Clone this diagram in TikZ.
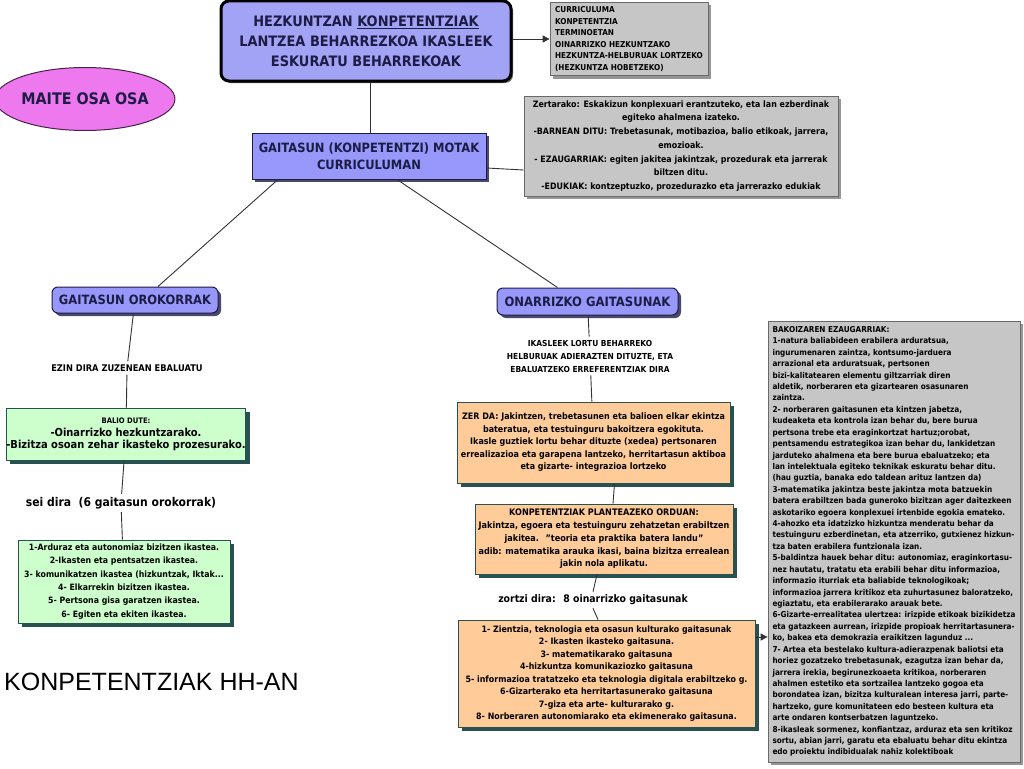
\documentclass[tikz,border=0pt]{standalone}
\usepackage{fontspec}
\setmainfont{DejaVu Sans}[FakeStretch=0.9]
\newfontfamily\arialfont{Liberation Sans}
\usetikzlibrary{shapes.geometric,shadows,arrows.meta}
\definecolor{topblue}{RGB}{163,163,246}
\definecolor{nodeblue}{RGB}{152,152,250}
\definecolor{navy}{RGB}{28,28,70}
\definecolor{boxgray}{RGB}{198,198,198}
\definecolor{grayedge}{RGB}{105,105,105}
\definecolor{grayshadow}{RGB}{150,150,150}
\definecolor{lgreen}{RGB}{204,255,204}
\definecolor{lorange}{RGB}{255,204,153}
\definecolor{tealshadow}{RGB}{40,82,82}
\definecolor{violetfill}{RGB}{238,120,238}
\newcommand\fsz[2]{\fontsize{#1}{#2}\selectfont\bfseries}
\begin{document}
\begin{tikzpicture}[x=1pt,y=-1pt,
  conn/.style={draw=black!80, line width=0.9pt},
  arr/.style={conn, -{Triangle[length=7pt,width=7pt]}},
  topbox/.style={draw=black, line width=3pt, rounded corners=8pt, fill=topblue,
    text=navy, align=center, inner sep=0pt,
    drop shadow={shadow xshift=2pt, shadow yshift=-2pt, fill=black!60, opacity=1}},
  bluebox/.style={draw=navy, line width=1pt, fill=nodeblue, text=navy, align=center, inner sep=0pt,
    drop shadow={shadow xshift=3pt, shadow yshift=-3pt, fill=navy!80, opacity=1}},
  graybox/.style={draw=grayedge, line width=0.8pt, fill=boxgray, text=black, inner sep=0pt,
    drop shadow={shadow xshift=3pt, shadow yshift=-3pt, fill=grayshadow, opacity=1}},
  greenbox/.style={draw=tealshadow, line width=0.8pt, fill=lgreen, text=black, align=center, inner sep=0pt,
    drop shadow={shadow xshift=4pt, shadow yshift=-4pt, fill=tealshadow, opacity=1}},
  orangebox/.style={draw=tealshadow, line width=0.8pt, fill=lorange, text=black, align=center, inner sep=0pt,
    drop shadow={shadow xshift=4pt, shadow yshift=-4pt, fill=tealshadow, opacity=1}},
  lbl/.style={align=center, inner sep=3pt, text=black}
]
\useasboundingbox[fill=white] (0,0) rectangle (1024,768);

% top
\node[topbox, minimum width=290, minimum height=80, font=\fsz{14.4}{20}] (top) at (366,41)
  {HEZKUNTZAN \underline{KONPETENTZIAK}\\LANTZEA BEHARREZKOA IKASLEEK\\ESKURATU BEHARREKOAK};

\node[graybox, minimum width=158, minimum height=73, align=left, font=\fsz{8.1}{11.5}] (g1) at (629,39)
  {CURRICULUMA\\KONPETENTZIA\\TERMINOETAN\\OINARRIZKO HEZKUNTZAKO\\HEZKUNTZA-HELBURUAK LORTZEKO\\(HEZKUNTZA HOBETZEKO)};

\node[ellipse, draw=black!70!violetfill, line width=1pt, fill=violetfill, minimum width=146, minimum height=63,
  inner sep=0pt, text=navy, font=\fsz{15.9}{18}] (ell) at (85,99) {MAITE OSA OSA};

\node[bluebox, minimum width=234, minimum height=46, font=\fsz{12.8}{17}] (mot) at (369,156)
  {GAITASUN (KONPETENTZI) MOTAK\\CURRICULUMAN};

\node[graybox, minimum width=314, minimum height=100, align=center, font=\fsz{8.8}{13.7}] (g2) at (681,146)
  {Zertarako: Eskakizun konplexuari erantzuteko, eta lan ezberdinak\\egiteko ahalmena izateko.\\
   -BARNEAN DITU: Trebetasunak, motibazioa, balio etikoak, jarrera,\\emozioak.\\
   - EZAUGARRIAK: egiten jakitea jakintzak, prozedurak eta jarrerak\\biltzen ditu.\\
   -EDUKIAK: kontzeptuzko, prozedurazko eta jarrerazko edukiak};

\node[bluebox, rounded corners=6pt, minimum width=166, minimum height=26, font=\fsz{12.8}{15}] (go) at (135,300)
  {GAITASUN OROKORRAK};
\node[bluebox, rounded corners=6pt, minimum width=181, minimum height=27, font=\fsz{12.9}{15}] (on) at (587.5,301.5)
  {ONARRIZKO GAITASUNAK};

% left branch
\node[lbl, font=\fsz{9.2}{11}] (ezin) at (127,368) {EZIN DIRA ZUZENEAN EBALUATU};
\node[greenbox, minimum width=236, minimum height=52] (gr1) at (126,434)
  {{\fsz{7.6}{9}BALIO DUTE:}\\[1pt]{\fsz{11}{15}-Oinarrizko hezkuntzarako.}\\{\fsz{11}{15}-Bizitza osoan zehar ikasteko prozesurako.}};
\node[lbl, font=\fsz{12}{14}] (sei) at (121,503) {sei dira~ (6 gaitasun orokorrak)};
\node[greenbox, minimum width=212, minimum height=83, font=\fsz{8.7}{13.3}] (gr2) at (124,581.5)
  {1-Arduraz eta autonomiaz bizitzen ikastea.\\2-Ikasten eta pentsatzen ikastea.\\
   3- komunikatzen ikastea (hizkuntzak, Iktak...\\4- Elkarrekin bizitzen ikastea.\\
   5- Pertsona gisa garatzen ikastea.\\6- Egiten eta ekiten ikastea.};

\node[anchor=west, inner sep=0pt, font=\arialfont\fontsize{25}{28}\selectfont] (hh) at (4,682) {KONPETENTZIAK HH-AN};

% right branch
\node[lbl, font=\fsz{8.3}{13}] (ikas) at (590,356)
  {IKASLEEK LORTU BEHARREKO\\HELBURUAK ADIERAZTEN DITUZTE, ETA\\EBALUATZEKO ERREFERENTZIAK DIRA};
\node[orangebox, minimum width=273, minimum height=81, font=\fsz{8.9}{12.5}] (or1) at (593.5,442.5)
  {ZER DA: Jakintzen, trebetasunen eta balioen elkar ekintza\\bateratua, eta testuinguru bakoitzera egokituta.\\
   Ikasle guztiek lortu behar dituzte (xedea) pertsonaren\\errealizazioa eta garapena lantzeko, herritartasun aktiboa\\
   eta gizarte- integrazioa lortzeko};
\node[orangebox, minimum width=258, minimum height=70, font=\fsz{9}{12.7}] (or2) at (604,539)
  {KONPETENTZIAK PLANTEAZEKO ORDUAN:\\Jakintza, egoera eta testuinguru zehatzetan erabiltzen\\
   jakitea.~ "teoria eta praktika batera landu"\\adib: matematika arauka ikasi, baina bizitza errealean\\
   jakin nola aplikatu.};
\node[lbl, font=\fsz{10.4}{12}] (zor) at (593,600) {zortzi dira:~ 8 oinarrizko gaitasunak};
\node[orangebox, minimum width=297, minimum height=107, font=\fsz{8.8}{12.5}] (or3) at (606.5,673.5)
  {1- Zientzia, teknologia eta osasun kulturako gaitasunak\\2- Ikasten ikasteko gaitasuna.\\
   3- matematikarako gaitasuna\\4-hizkuntza komunikaziozko gaitasuna\\
   5- informazioa tratatzeko eta teknologia digitala erabiltzeko g.\\
   6-Gizarterako eta herritartasunerako gaitasuna\\7-giza eta arte- kulturarako g.\\
   8- Norberaren autonomiarako eta ekimenerako gaitasuna.};

\node[graybox, minimum width=252, minimum height=441, align=left, font=\fsz{8.1}{11.42}] (big) at (894,541.5)
  {BAKOIZAREN EZAUGARRIAK:\\
   1-natura baliabideen erabilera arduratsua,\\
   ingurumenaren zaintza, kontsumo-jarduera\\
   arrazional eta arduratsuak, pertsonen\\
   bizi-kalitatearen elementu giltzarriak diren\\
   aldetik, norberaren eta gizartearen osasunaren\\
   zaintza.\\
   2- norberaren gaitasunen eta kintzen jabetza,\\
   kudeaketa eta kontrola izan behar du, bere burua\\
   pertsona trebe eta eraginkortzat hartuz;orobat,\\
   pentsamendu estrategikoa izan behar du, lankidetzan\\
   jarduteko ahalmena eta bere burua ebaluatzeko; eta\\
   lan intelektuala egiteko teknikak eskuratu behar ditu.\\
   (hau guztia, banaka edo taldean arituz lantzen da)\\
   3-matematika jakintza beste jakintza mota batzuekin\\
   batera erabiltzen bada guneroko bizitzan ager daitezkeen\\
   askotariko egoera konplexuei irtenbide egokia emateko.\\
   4-ahozko eta idatzizko hizkuntza menderatu behar da\\
   testuinguru ezberdinetan, eta atzerriko, gutxienez hizkun-\\
   tza baten erabilera funtzionala izan.\\
   5-baldintza hauek behar ditu: autonomiaz, eraginkortasu-\\
   nez hautatu, tratatu eta erabili behar ditu informazioa,\\
   informazio iturriak eta baliabide teknologikoak;\\
   informazioa jarrera kritikoz eta zuhurtasunez baloratzeko,\\
   egiaztatu, eta erabilerarako arauak bete.\\
   6-Gizarte-errealitatea ulertzea: irizpide etikoak bizikidetza\\
   eta gatazkeen aurrean, irizpide propioak herritartasunera-\\
   ko, bakea eta demokrazia eraikitzen lagunduz ...\\
   7- Artea eta bestelako kultura-adierazpenak baliotsi eta\\
   horiez gozatzeko trebetasunak, ezagutza izan behar da,\\
   jarrera irekia, begirunezkoaeta kritikoa, norberaren\\
   ahalmen estetiko eta sortzailea lantzeko gogoa eta\\
   borondatea izan, bizitza kulturalean interesa jarri, parte-\\
   hartzeko, gure komunitateen edo besteen kultura eta\\
   arte ondaren kontserbatzen laguntzeko.\\
   8-ikasleak sormenez, konfiantzaz, arduraz eta sen kritikoz\\
   sortu, abian jarri, garatu eta ebaluatu behar ditu ekintza\\
   edo proiektu indibidualak nahiz kolektiboak};

% connectors
\draw[conn] ([xshift=4pt]top.south) -- ([xshift=4pt]top.south |- mot.north);
\draw[arr] (top.east |- g1.west) -- (g1.west);
\draw[conn] ([yshift=-12pt]mot.east) -- ([yshift=-24pt]g2.west);
\draw[conn] ([xshift=-91pt]mot.south) -- ([xshift=23pt]go.north);
\draw[conn] ([xshift=28pt]mot.south) -- ([xshift=-30pt]on.north);
\draw[conn] (go) -- (ezin) -- (gr1);
\draw[conn] (gr1) -- (sei) -- (gr2);
\draw[conn] (on) -- (ikas) -- (or1);
\draw[conn] ([xshift=21pt]or1.south) -- ([xshift=9pt]or2.north);
\draw[conn] ([xshift=-7pt]or2.south) -- (zor.north);
\draw[conn] (zor.south) -- ([xshift=-8.5pt]or3.north);
\draw[arr] ([yshift=36.5pt]or3.east) -- ([yshift=36.5pt]or3.east -| big.west);
\end{tikzpicture}
\end{document}
